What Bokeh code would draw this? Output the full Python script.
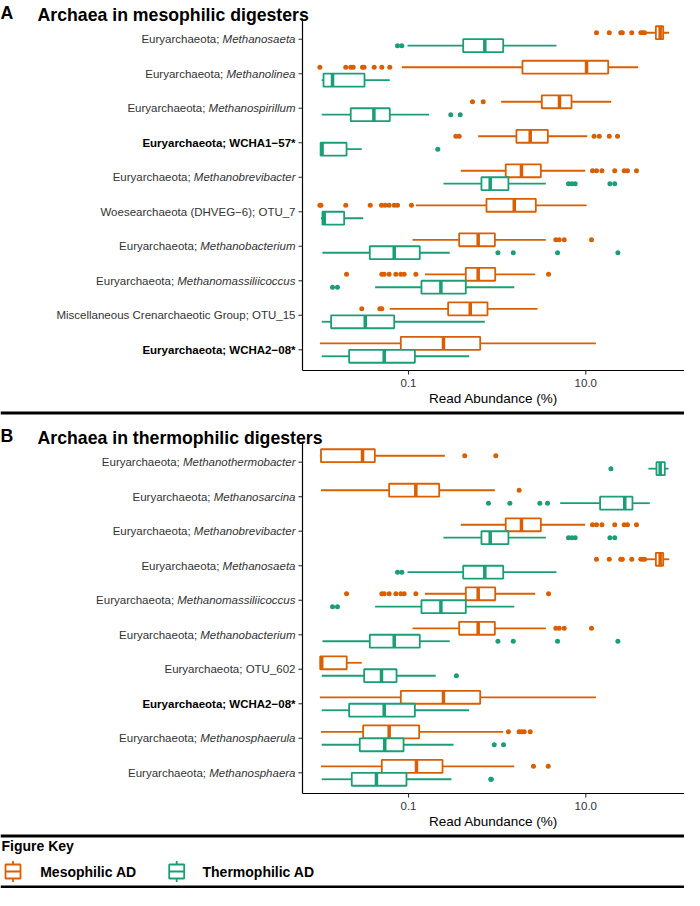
from bokeh.plotting import figure
from bokeh.models import Range1d, ColumnDataSource
from bokeh.embed import file_html
from bokeh.resources import INLINE
from bokeh.core.properties import value

MESO_COLOR = "#D95F02"
THERMO_COLOR = "#1B9E77"
series_names = ["Mesophilic AD", "Thermophilic AD"]
x_axis_title = "Read Abundance (%)"
x_ticks = [0.1, 10.0]
x_tick_labels = ["0.1", "10.0"]
panel_tags = ["A", "B"]
panel_titles = ["Archaea in mesophilic digesters", "Archaea in thermophilic digesters"]
key_title = "Figure Key"

# ---------------- Panel A (rows top -> bottom) ----------------
a_plain = ["Euryarchaeota;", "Euryarchaeota;", "Euryarchaeota;", "Euryarchaeota; WCHA1\u221257*",
           "Euryarchaeota;", "Woesearchaeota (DHVEG\u22126); OTU_7", "Euryarchaeota;", "Euryarchaeota;",
           "Miscellaneous Crenarchaeotic Group; OTU_15", "Euryarchaeota; WCHA2\u221208*"]
a_italic = ["Methanosaeta", "Methanolinea", "Methanospirillum", "", "Methanobrevibacter", "",
            "Methanobacterium", "Methanomassiliicoccus", "", ""]
a_bold = [False, False, False, True, False, False, False, False, False, True]

a_meso_low = [47.6, 0.084, 1.11, 0.611, 0.389, 0.121, 0.111, 0.153, 0.0615, 0.0100]
a_meso_q1 = [61.7, 1.93, 3.19, 1.65, 1.25, 0.758, 0.373, 0.443, 0.28, 0.0819]
a_meso_med = [69.0, 10.2, 5.05, 2.36, 1.88, 1.56, 0.611, 0.611, 0.497, 0.248]
a_meso_q3 = [74.6, 17.9, 6.9, 3.73, 3.11, 2.73, 0.942, 0.951, 0.778, 0.644]
a_meso_high = [87.3, 39.0, 19.3, 10.4, 9.84, 10.2, 3.54, 2.69, 2.85, 13.0]
a_meso_out = [[13.2, 18.4, 24.8, 25.8, 33.0, 41.7, 43.6, 46.0],
              [0.0100, 0.0196, 0.0223, 0.0238, 0.0303, 0.0316, 0.041, 0.050, 0.0615],
              [0.527, 0.696],
              [0.342, 0.373, 12.4, 14.2, 18.4, 22.8],
              [11.9, 13.2, 15.2, 21.2, 27.1, 29.5, 37.3],
              [0.0100, 0.0103, 0.0196, 0.037, 0.0496, 0.0545, 0.0605, 0.069, 0.0752, 0.108],
              [4.59, 5.01, 5.71, 11.6],
              [0.020, 0.050, 0.0532, 0.0605, 0.072, 0.0819, 0.0894, 0.121, 3.80],
              [0.0297, 0.0475, 0.050],
              []]

a_thermo_low = [0.0975, 0.0105, 0.0105, 0.0102, 0.248, 0.0103, 0.0107, 0.042, 0.0105, 0.0105]
a_thermo_q1 = [0.414, 0.0110, 0.0223, 0.0102, 0.665, 0.0107, 0.0366, 0.140, 0.0134, 0.0214]
a_thermo_med = [0.726, 0.0139, 0.0407, 0.0106, 0.835, 0.0112, 0.069, 0.232, 0.0325, 0.0532]
a_thermo_q3 = [1.17, 0.0319, 0.0615, 0.020, 1.34, 0.0188, 0.134, 0.443, 0.069, 0.118]
a_thermo_high = [4.67, 0.0615, 0.171, 0.0297, 3.54, 0.0308, 0.292, 1.56, 0.726, 0.484]
a_thermo_out = [[0.0752, 0.0841], [], [0.30, 0.383], [0.214], [6.38, 6.96, 7.59, 18.7, 21.2],
                [], [1.02, 1.52, 4.8, 23.0], [0.0139, 0.0158], [], []]

# ---------------- Panel B (rows top -> bottom) ----------------
b_plain = ["Euryarchaeota;", "Euryarchaeota;", "Euryarchaeota;", "Euryarchaeota;", "Euryarchaeota;",
           "Euryarchaeota;", "Euryarchaeota; OTU_602", "Euryarchaeota; WCHA2\u221208*",
           "Euryarchaeota;", "Euryarchaeota;"]
b_italic = ["Methanothermobacter", "Methanosarcina", "Methanobrevibacter", "Methanosaeta",
            "Methanomassiliicoccus", "Methanobacterium", "", "", "Methanosphaerula", "Methanosphaera"]
b_bold = [False, False, False, False, False, False, False, True, False, False]

b_meso_low = [0.0100, 0.0103, 0.389, 47.6, 0.153, 0.111, 0.0100, 0.0100, 0.0103, 0.0103]
b_meso_q1 = [0.0103, 0.0605, 1.25, 61.7, 0.443, 0.373, 0.0101, 0.0819, 0.0308, 0.050]
b_meso_med = [0.0303, 0.121, 1.88, 69.0, 0.611, 0.611, 0.0105, 0.248, 0.0605, 0.123]
b_meso_q3 = [0.0417, 0.222, 3.11, 74.6, 0.951, 0.942, 0.0201, 0.644, 0.132, 0.242]
b_meso_high = [0.257, 0.942, 9.84, 87.3, 2.69, 3.54, 0.0297, 13.0, 1.17, 1.56]
b_meso_out = [[0.431, 0.966], [1.77],
              [11.9, 13.2, 15.2, 21.2, 27.1, 29.5, 37.3],
              [13.2, 18.4, 24.8, 25.8, 33.0, 41.7, 43.6, 46.0],
              [0.020, 0.050, 0.0532, 0.0605, 0.072, 0.0819, 0.0894, 0.121, 3.80],
              [4.59, 5.01, 5.71, 11.6],
              [], [], [1.34, 1.77, 1.90, 2.02, 2.36], [2.57, 3.77]]

b_thermo_low = [50.9, 5.14, 0.248, 0.0975, 0.042, 0.0107, 0.0105, 0.0105, 0.0105, 0.0105]
b_thermo_q1 = [62.7, 14.5, 0.665, 0.414, 0.140, 0.0366, 0.0316, 0.0214, 0.0282, 0.0229]
b_thermo_med = [69.0, 27.5, 0.835, 0.726, 0.232, 0.069, 0.0496, 0.0532, 0.054, 0.0435]
b_thermo_q3 = [77.8, 33.6, 1.34, 1.17, 0.443, 0.134, 0.0733, 0.118, 0.0879, 0.0949]
b_thermo_high = [85.7, 52.7, 3.54, 4.67, 1.56, 0.292, 0.203, 0.484, 0.322, 0.305]
b_thermo_out = [[19.2], [0.798, 1.39, 3.03, 3.70], [6.38, 6.96, 7.59, 18.7, 21.2], [0.0752, 0.0841],
                [0.0139, 0.0158], [1.02, 1.52, 4.8, 23.0], [0.347], [], [0.927, 1.18], [0.847, 0.86]]

# ---------------- layout constants (pixels, y measured from the top) ----------------
FONT = "Liberation Sans"
W, H = 684, 888
DEC = 88.65                      # pixels per decade on the log axis
LOG0 = -1 - 408 / DEC            # log10 value at the left edge of the canvas
AX_L = 302                       # x pixel of the y axis line
LABEL_SIZE = 11.5
TEXT_COL = "#333333"
BOX_FRAC = 0.375
DODGE = 0.1875


def fx(px):
    """data value on the log scale at horizontal pixel px"""
    return 10 ** (LOG0 + px / DEC)


ARIAL_W = {' ': 278, ';': 278, 'M': 833, 'a': 556, 'b': 556, 'c': 500, 'd': 556, 'e': 556, 'f': 278,
           'g': 556, 'h': 556, 'i': 222, 'j': 222, 'k': 500, 'l': 222, 'm': 833, 'n': 556, 'o': 556,
           'p': 556, 'q': 556, 'r': 333, 's': 500, 't': 278, 'u': 556, 'v': 500, 'w': 722, 'x': 500,
           'y': 500, 'z': 500}


def tw(s, size):
    return sum(ARIAL_W.get(c, 556) for c in s) * size / 1000.0


p = figure(width=W, height=H, x_axis_type="log", x_axis_location=None, y_axis_location=None,
           x_range=Range1d(fx(0), fx(W)), y_range=Range1d(H, 0), min_border=0,
           toolbar_location=None, output_backend="svg", outline_line_color=None)
p.xgrid.visible = False
p.ygrid.visible = False
p.background_fill_color = "white"


def draw_series(ys, bh, low, q1, med, q3, high, outs, color):
    src = ColumnDataSource(dict(y=ys, low=low, q1=q1, med=med, q3=q3, high=high,
                                ylo=[y - bh / 2 for y in ys], yhi=[y + bh / 2 for y in ys]))
    p.segment(x0="low", y0="y", x1="q1", y1="y", source=src, line_color=color, line_width=1.8)
    p.segment(x0="q3", y0="y", x1="high", y1="y", source=src, line_color=color, line_width=1.8)
    p.hbar(y="y", left="q1", right="q3", height=bh, source=src, fill_color="white",
           line_color=color, line_width=1.8)
    p.segment(x0="med", y0="ylo", x1="med", y1="yhi", source=src, line_color=color, line_width=3.5)
    ox, oy = [], []
    for y, o in zip(ys, outs):
        for v in o:
            ox.append(v)
            oy.append(y)
    p.scatter(x=ox, y=oy, size=5, color=color, line_width=0)


def draw_panel(top, bottom, tag, title, plain, italic, bold, meso, thermo):
    R = (bottom - top) / 10.2
    centers = [top + (0.6 + i) * R for i in range(10)]
    bh = BOX_FRAC * R
    draw_series([c - DODGE * R for c in centers], bh, *meso, MESO_COLOR)
    draw_series([c + DODGE * R for c in centers], bh, *thermo, THERMO_COLOR)

    # axes
    x_ax, x_right = fx(AX_L), fx(W)
    p.segment(x0=[x_ax, x_ax], y0=[top, bottom], x1=[x_ax, x_right], y1=[bottom, bottom],
              line_color="black", line_width=1.2)
    p.segment(x0=[fx(AX_L - 4)] * 10, x1=[x_ax] * 10, y0=centers, y1=centers,
              line_color="#333333", line_width=1.1)
    p.segment(x0=x_ticks, x1=x_ticks, y0=[bottom] * 2, y1=[bottom + 4] * 2,
              line_color="#333333", line_width=1.1)
    p.text(x=x_ticks, y=[bottom + 12.5] * 2, text=x_tick_labels, text_font=value(FONT),
           text_font_size="11.5px", text_color=TEXT_COL, text_align="center", text_baseline="middle")
    p.text(x=[fx((AX_L + W) / 2)], y=[bottom + 27.5], text=[x_axis_title], text_font=value(FONT),
           text_font_size="13.5px", text_color="black", text_align="center", text_baseline="middle")

    # category labels (plain part + italic genus)
    lx = AX_L - 7
    it_x, it_y, it_t = [], [], []
    pl_x, pl_y, pl_t = [], [], []
    bd_x, bd_y, bd_t = [], [], []
    for i in range(10):
        if italic[i]:
            it_x.append(fx(lx)); it_y.append(centers[i]); it_t.append(italic[i])
            pl_x.append(fx(lx - tw(italic[i], LABEL_SIZE) - tw(" ", LABEL_SIZE)))
            pl_y.append(centers[i]); pl_t.append(plain[i])
        elif bold[i]:
            bd_x.append(fx(lx)); bd_y.append(centers[i]); bd_t.append(plain[i])
        else:
            pl_x.append(fx(lx)); pl_y.append(centers[i]); pl_t.append(plain[i])
    common = dict(text_font=value(FONT), text_font_size="11.5px", text_align="right",
                  text_baseline="middle")
    p.text(x=it_x, y=it_y, text=it_t, text_font_style="italic", text_color=TEXT_COL, **common)
    p.text(x=pl_x, y=pl_y, text=pl_t, text_font_style="normal", text_color=TEXT_COL, **common)
    p.text(x=bd_x, y=bd_y, text=bd_t, text_font_style="bold", text_color="black", **common)

    # panel tag and title
    p.text(x=[fx(0)], y=[top - 6], text=[tag], text_font=value(FONT), text_font_size="17.7px",
           text_font_style="bold", text_color="black", text_baseline="alphabetic")
    p.text(x=[fx(37)], y=[top - 3.5], text=[title], text_font=value(FONT), text_font_size="17.7px",
           text_font_style="bold", text_color="black", text_baseline="alphabetic")


draw_panel(18, 370, panel_tags[0], panel_titles[0], a_plain, a_italic, a_bold,
           (a_meso_low, a_meso_q1, a_meso_med, a_meso_q3, a_meso_high, a_meso_out),
           (a_thermo_low, a_thermo_q1, a_thermo_med, a_thermo_q3, a_thermo_high, a_thermo_out))
draw_panel(441, 793, panel_tags[1], panel_titles[1], b_plain, b_italic, b_bold,
           (b_meso_low, b_meso_q1, b_meso_med, b_meso_q3, b_meso_high, b_meso_out),
           (b_thermo_low, b_thermo_q1, b_thermo_med, b_thermo_q3, b_thermo_high, b_thermo_out))

# separators
sep_top = [411, 834, 885]
p.quad(left=[fx(0)] * 3, right=[fx(W)] * 3, top=sep_top, bottom=[t + 3 for t in sep_top],
       color="black", line_width=0)

# figure key
p.text(x=[fx(1)], y=[845], text=[key_title], text_font=value(FONT), text_font_size="14px",
       text_font_style="bold", text_baseline="middle", text_color="black")
icon_l = [5, 168.7]
text_l = [39.7, 202]
colors = [MESO_COLOR, THERMO_COLOR]
yc = 871
p.segment(x0=[fx(x + 7.5) for x in icon_l], x1=[fx(x + 7.5) for x in icon_l], y0=[yc - 10.5] * 2,
          y1=[yc + 10.5] * 2, line_color=colors, line_width=1.8)
p.quad(left=[fx(x) for x in icon_l], right=[fx(x + 15) for x in icon_l], bottom=[yc + 7] * 2,
       top=[yc - 7] * 2, fill_color="white", line_color=colors, line_width=1.8)
p.segment(x0=[fx(x) for x in icon_l], x1=[fx(x + 15) for x in icon_l], y0=[yc] * 2, y1=[yc] * 2,
          line_color=colors, line_width=1.8)
p.text(x=[fx(x) for x in text_l], y=[yc] * 2, text=series_names, text_font=value(FONT),
       text_font_size="14px", text_font_style="bold", text_baseline="middle", text_color="black")

open("out.html", "w").write(file_html(p, INLINE))
